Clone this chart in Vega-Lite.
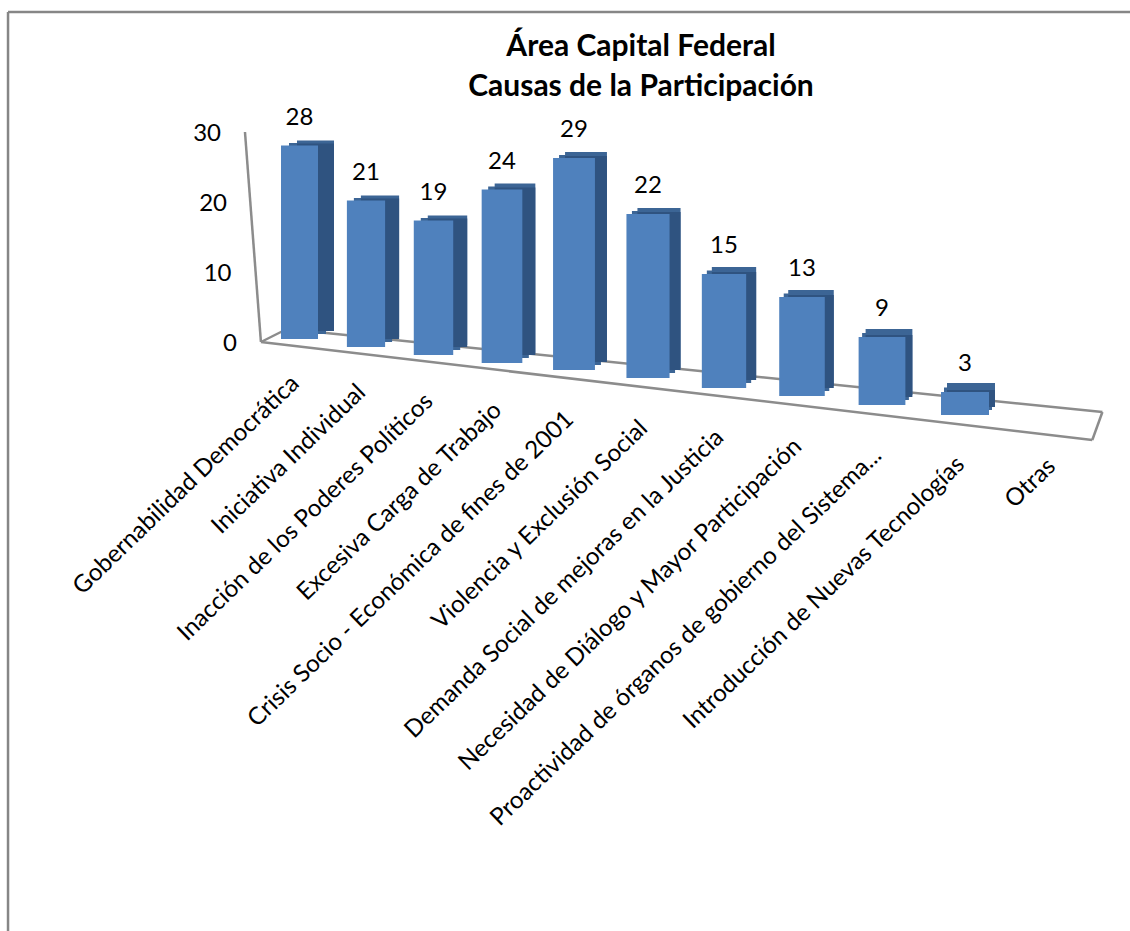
{"$schema":"https://vega.github.io/schema/vega-lite/v6.json","width":1130,"height":831,"autosize":"none","padding":{"left":0,"top":100,"right":0,"bottom":0},"background":"white","view":{"stroke":null},
"title":{"text":["Área Capital Federal","Causas de la Participación"],"anchor":"middle","dx":76,"offset":-91,"font":"Lato","fontWeight":"bold","fontSize":30,"lineHeight":40,"color":"#000000"},
"datasets":{"causas":[
{"causa":"Gobernabilidad Democrática","orden":1,"valor":28,"base":0},
{"causa":"Iniciativa Individual","orden":2,"valor":21,"base":0},
{"causa":"Inacción de los Poderes Políticos","orden":3,"valor":19,"base":0},
{"causa":"Excesiva Carga de Trabajo","orden":4,"valor":24,"base":0},
{"causa":"Crisis Socio - Económica de fines de 2001","orden":5,"valor":29,"base":0},
{"causa":"Violencia y Exclusión Social","orden":6,"valor":22,"base":0},
{"causa":"Demanda Social de mejoras en la Justicia","orden":7,"valor":15,"base":0},
{"causa":"Necesidad de Diálogo y Mayor Participación","orden":8,"valor":13,"base":0},
{"causa":"Proactividad de órganos de gobierno del Sistema...","orden":9,"valor":9,"base":0},
{"causa":"Introducción de Nuevas Tecnologías","orden":10,"valor":3,"base":0},
{"causa":"Otras","orden":11,"valor":null,"base":0}],
"planos":[
{"o1":-3,"o2":12.2,"n1":47.14,"n2":47.14,"tipo":"marco"},
{"o1":-3,"o2":-3,"n1":47.14,"n2":-84.2,"tipo":"marco"},
{"o1":0.18,"o2":0.42,"n1":30,"n2":0,"tipo":"plano"},
{"o1":0.42,"o2":11.62,"n1":0,"n2":-14,"tipo":"plano"},
{"o1":0.42,"o2":0.81,"n1":0,"n2":1.857,"tipo":"plano"},
{"o1":0.81,"o2":11.74,"n1":1.857,"n2":-10,"tipo":"plano"},
{"o1":11.62,"o2":11.74,"n1":-14,"n2":-10,"tipo":"plano"}],
"niveles":[{"nivel":0,"pos":0.06},{"nivel":10,"pos":-0.02},{"nivel":20,"pos":-0.08},{"nivel":30,"pos":-0.16}]},
"data":{"name":"causas"},
"resolve":{"scale":{"y":"independent"}},
"encoding":{"x":{"field":"orden","type":"quantitative","axis":null,"scale":{"domain":[-3,0,1,2,3,4,5,6,7,8,9,10,11,12],"range":[3,233,299.5,366,433.5,502,574,648,724,802,882,965,1040,1130]}}},
"layer":[
{"data":{"name":"planos"},"mark":{"type":"rule","strokeWidth":2.5},"encoding":{"x":{"field":"o1","type":"quantitative","axis":null,"scale":{"domain":[-3,0,1,2,3,4,5,6,7,8,9,10,11,12],"range":[3,233,299.5,366,433.5,502,574,648,724,802,882,965,1040,1130]}},"x2":{"field":"o2"},"y":{"field":"n1","type":"quantitative","axis":null,"scale":{"domain":[0,30],"range":[242,32]}},"y2":{"field":"n2"},"color":{"field":"tipo","type":"nominal","legend":null,"scale":{"domain":["marco","plano"],"range":["#868686","#8c8c8c"]}}}},
{"mark":{"type":"bar","color":"#3C6595",
"xOffset":{"expr":"[16,14,14,13,12,11,10,9,7,6][datum.orden-1]"},
"yOffset":{"expr":"[-0.5,5.5,11.5,15.5,19,26,37,46,58,71][datum.orden-1]-[5,5,5,6,6,6,7,7,8,9][datum.orden-1]"},
"y2Offset":{"expr":"[-3,5,13,21,28,36,46,54,63,73][datum.orden-1]-10"}},
"encoding":{"y":{"field":"valor","type":"quantitative","axis":null,"scale":{"domain":[0,30],"range":[242,32]}},"y2":{"field":"base"},"size":{"field":"orden","type":"quantitative","legend":null,"scale":{"domain":[1,10],"range":[37,48]}}}},
{"mark":{"type":"bar","color":"#3C6595",
"xOffset":{"expr":"[8,7,7,6.5,6,5.5,5,4.5,3.5,3][datum.orden-1]"},
"yOffset":{"expr":"[-0.5,5.5,11.5,15.5,19,26,37,46,58,71][datum.orden-1]-[2.5,2.5,2.5,3,3,3,3.5,3.5,4,4.5][datum.orden-1]"},
"y2Offset":{"expr":"[-3,5,13,21,28,36,46,54,63,73][datum.orden-1]-5"}},
"encoding":{"y":{"field":"valor","type":"quantitative","axis":null,"scale":{"domain":[0,30],"range":[242,32]}},"y2":{"field":"base"},"size":{"field":"orden","type":"quantitative","legend":null,"scale":{"domain":[1,10],"range":[37,48]}}}},
{"mark":{"type":"bar","color":"#2F5380",
"xOffset":{"expr":"[16,14,14,13,12,11,10,9,7,6][datum.orden-1]"},
"yOffset":{"expr":"[-0.5,5.5,11.5,15.5,19,26,37,46,58,71][datum.orden-1]-2"},
"y2Offset":{"expr":"[-3,5,13,21,28,36,46,54,63,73][datum.orden-1]-8"}},
"encoding":{"y":{"field":"valor","type":"quantitative","axis":null,"scale":{"domain":[0,30],"range":[242,32]}},"y2":{"field":"base"},"size":{"field":"orden","type":"quantitative","legend":null,"scale":{"domain":[1,10],"range":[37,48]}}}},
{"mark":{"type":"bar","color":"#4F81BD",
"yOffset":{"expr":"[-0.5,5.5,11.5,15.5,19,26,37,46,58,71][datum.orden-1]"},
"y2Offset":{"expr":"[-3,5,13,21,28,36,46,54,63,73][datum.orden-1]"}},
"encoding":{"y":{"field":"valor","type":"quantitative","axis":null,"scale":{"domain":[0,30],"range":[242,32]}},"y2":{"field":"base"},"size":{"field":"orden","type":"quantitative","legend":null,"scale":{"domain":[1,10],"range":[37,48]}}}},
{"mark":{"type":"text","font":"Lato","fontSize":24,"color":"#000000","baseline":"middle","align":"center","dy":-28,
"yOffset":{"expr":"[-0.5,5.5,11.5,15.5,19,26,37,46,58,71][datum.orden-1]"}},
"encoding":{"y":{"field":"valor","type":"quantitative","axis":null,"scale":{"domain":[0,30],"range":[242,32]}},"text":{"field":"valor","type":"quantitative"}}},
{"mark":{"type":"text","font":"Lato","fontSize":24.2,"color":"#000000","baseline":"middle","align":"right","angle":-44,"xOffset":{"expr":"datum.orden==11?12:-4"}},
"encoding":{"y":{"field":"orden","type":"quantitative","axis":null,"scale":{"domain":[1,10,11],"range":[280,361,363]}},"text":{"field":"causa","type":"nominal"}}},
{"data":{"name":"niveles"},"mark":{"type":"text","font":"Lato","fontSize":24,"color":"#000000","baseline":"middle","align":"right","dy":2},"encoding":{"x":{"field":"pos","type":"quantitative","axis":null,"scale":{"domain":[-3,0,1,2,3,4,5,6,7,8,9,10,11,12],"range":[3,233,299.5,366,433.5,502,574,648,724,802,882,965,1040,1130]}},"y":{"field":"nivel","type":"quantitative","axis":null,"scale":{"domain":[0,30],"range":[242,32]}},"text":{"field":"nivel","type":"quantitative"}}}
]}
